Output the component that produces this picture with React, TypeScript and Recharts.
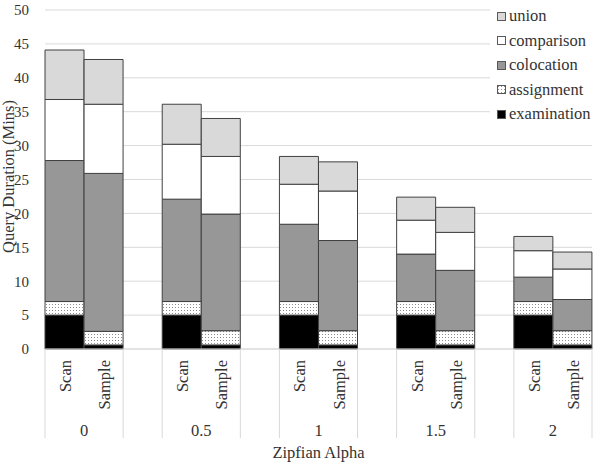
import React from 'react';
import {
  BarChart,
  Bar,
  XAxis,
  YAxis,
  CartesianGrid
} from 'recharts';

const alphas = ['0', '0.5', '1', '1.5', '2'];
const methods = ['Scan', 'Sample'];

const scanExamination = [5, 5, 5, 5, 5];
const scanAssignment = [2, 2, 2, 2, 2];
const scanColocation = [20.8, 15.1, 11.4, 7.0, 3.6];
const scanComparison = [9.0, 8.1, 5.9, 5.0, 3.9];
const scanUnion = [7.3, 5.9, 4.1, 3.4, 2.1];

const sampleExamination = [0.6, 0.6, 0.6, 0.6, 0.6];
const sampleAssignment = [2.0, 2.1, 2.1, 2.1, 2.1];
const sampleColocation = [23.3, 17.2, 13.3, 8.9, 4.6];
const sampleComparison = [10.2, 8.5, 7.3, 5.6, 4.5];
const sampleUnion = [6.6, 5.6, 4.3, 3.7, 2.5];

const yTicks = [0, 5, 10, 15, 20, 25, 30, 35, 40, 45, 50];

const FONT = '"Liberation Serif", "Times New Roman", serif';
const TEXT = '#333333';

// stacked bottom to top; legend lists them top to bottom
const series = [
  { key: 'examination', fill: '#000000' },
  { key: 'assignment', fill: 'url(#dots)' },
  { key: 'colocation', fill: '#979797' },
  { key: 'comparison', fill: '#ffffff' },
  { key: 'union', fill: '#d9d9d9' },
];

type Row = {
  method: string;
  group: string;
  examination?: number;
  assignment?: number;
  colocation?: number;
  comparison?: number;
  union?: number;
};

const rows: Row[] = [];
alphas.forEach((a, i) => {
  rows.push({
    method: methods[0],
    group: a,
    examination: scanExamination[i],
    assignment: scanAssignment[i],
    colocation: scanColocation[i],
    comparison: scanComparison[i],
    union: scanUnion[i],
  });
  rows.push({
    method: methods[1],
    group: a,
    examination: sampleExamination[i],
    assignment: sampleAssignment[i],
    colocation: sampleColocation[i],
    comparison: sampleComparison[i],
    union: sampleUnion[i],
  });
  // empty slot between groups, like the spacer column in the sheet
  if (i < alphas.length - 1) rows.push({ method: '', group: '' });
});

const MethodTick = (props: any) => {
  const { x, y, payload } = props;
  const row = rows[payload.index];
  if (!row || !row.method) return null;
  const half = payload.offset ?? 0;
  const isScan = row.method === methods[0];
  const edge = isScan ? x - half : x + half;
  return (
    <g>
      <line x1={edge} x2={edge} y1={y} y2={y + 89} stroke="#d9d9d9" />
      <text
        transform={`translate(${x + 1},${y + 11}) rotate(-90)`}
        textAnchor="end"
        dominantBaseline="central"
        fontFamily={FONT}
        fontSize={16.5}
        fill={TEXT}
      >
        {row.method}
      </text>
      {isScan && (
        <text
          x={x + half}
          y={y + 81}
          textAnchor="middle"
          dominantBaseline="central"
          fontFamily={FONT}
          fontSize={16.5}
          fill={TEXT}
        >
          {row.group}
        </text>
      )}
    </g>
  );
};

const Swatch = ({ fill }: { fill: string }) => {
  if (fill === 'url(#dots)') {
    return (
      <svg width={9} height={9} style={{ display: 'block' }}>
        <defs>
          <pattern id="dotsLegend" width={3} height={3} patternUnits="userSpaceOnUse">
            <rect width={3} height={3} fill="#ffffff" />
            <rect x={1} y={1} width={1} height={1} fill="#8a8a8a" />
          </pattern>
        </defs>
        <rect x={0.5} y={0.5} width={8} height={8} fill="url(#dotsLegend)" stroke="#595959" />
      </svg>
    );
  }
  return (
    <svg width={9} height={9} style={{ display: 'block' }}>
      <rect x={0.5} y={0.5} width={8} height={8} fill={fill} stroke="#595959" />
    </svg>
  );
};

const App: React.FC = () => {
  const legendItems = [...series].reverse();
  return (
    <div style={{ position: 'absolute', left: 0, top: 0, width: 600, height: 463, background: '#fff' }}>
      <BarChart
        width={600}
        height={463}
        data={rows}
        margin={{ top: 10, right: 8, bottom: 10, left: 0 }}
        barCategoryGap={0}
        barGap={0}
      >
        <defs>
          <pattern id="dots" width={3} height={3} patternUnits="userSpaceOnUse">
            <rect width={3} height={3} fill="#ffffff" />
            <rect x={1} y={1} width={1} height={1} fill="#8a8a8a" />
          </pattern>
        </defs>
        <CartesianGrid vertical={false} stroke="#d9d9d9" />
        <XAxis
          dataKey="method"
          interval={0}
          height={104}
          tickLine={false}
          tickSize={0}
          tickMargin={0}
          axisLine={{ stroke: '#d9d9d9' }}
          tick={<MethodTick />}
          label={(p: any) => {
            const vb = p.viewBox;
            return (
              <text
                x={vb.x + vb.width / 2}
                y={vb.y + 103}
                textAnchor="middle"
                dominantBaseline="central"
                fontFamily={FONT}
                fontSize={16.5}
                fill={TEXT}
              >
                Zipfian Alpha
              </text>
            );
          }}
        />
        <YAxis
          width={45}
          domain={[0, 50]}
          ticks={yTicks}
          axisLine={false}
          tickLine={false}
          tickSize={0}
          tickMargin={16}
          tick={{ fontFamily: FONT, fontSize: 15, fill: TEXT }}
          label={(p: any) => {
            const vb = p.viewBox;
            return (
              <text
                transform={`translate(${vb.x + 8.5},${vb.y + vb.height / 2 - 3}) rotate(-90)`}
                textAnchor="middle"
                dominantBaseline="central"
                fontFamily={FONT}
                fontSize={16.5}
                fill={TEXT}
              >
                Query Duration (Mins)
              </text>
            );
          }}
        />
        {series.map((s) => (
          <Bar
            key={s.key}
            dataKey={s.key}
            stackId="a"
            fill={s.fill}
            stroke="#404040"
            strokeWidth={1}
            isAnimationActive={false}
          />
        ))}
      </BarChart>
      <div
        style={{
          position: 'absolute',
          left: 490,
          top: 4,
          width: 110,
          height: 122,
          background: '#fff',
          fontFamily: FONT,
          fontSize: 16.5,
          color: TEXT,
        }}
      >
        {legendItems.map((s) => (
          <div key={s.key} style={{ display: 'flex', alignItems: 'center', height: 24.5, paddingLeft: 7 }}>
            <Swatch fill={s.fill} />
            <span style={{ marginLeft: 3, lineHeight: '16px' }}>{s.key}</span>
          </div>
        ))}
      </div>
    </div>
  );
};

export default App;
